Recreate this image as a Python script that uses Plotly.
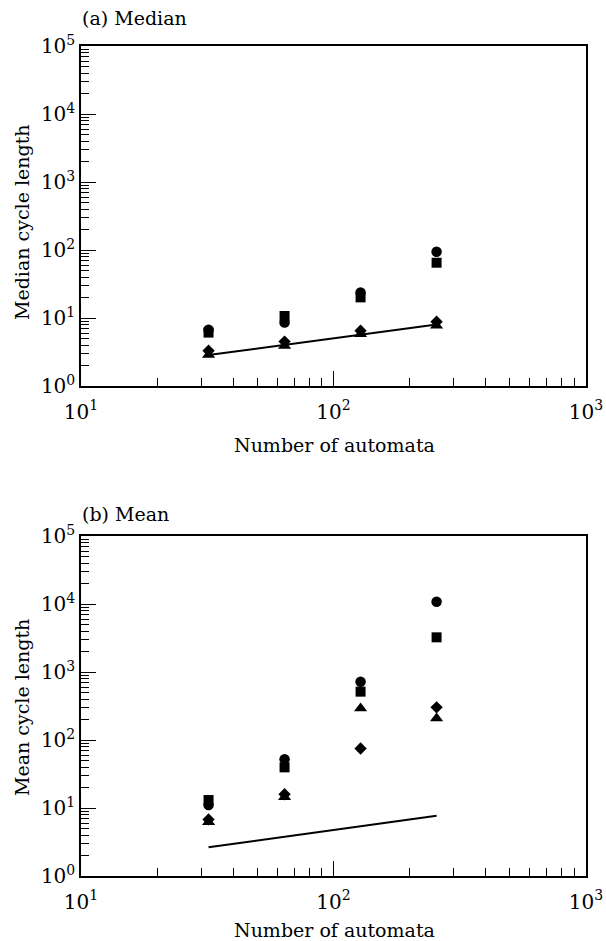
import plotly.graph_objects as go

# ---------------- data ----------------
automata = [32, 64, 128, 256]

median_circle = [6.7, 8.6, 23.8, 94]
median_square = [6.1, 10.7, 20.1, 65]
median_diamond = [3.3, 4.5, 6.5, 8.8]
median_triangle = [2.86, 3.9, 5.8, 7.7]

mean_circle = [11.1, 52, 720, 10800]
mean_square = [13.1, 39.6, 514, 3235]
mean_diamond = [6.8, 15.9, 75, 302]
mean_triangle = [6.2, 14.5, 292, 208]

ref_x = [32, 256]
median_ref_line = [2.86, 8.0]
mean_ref_line = [2.64, 7.7]

x_tick_vals = [10, 100, 1000]
x_tick_text = ["10<sup>1</sup>", "10<sup>2</sup>", "10<sup>3</sup>"]
y_tick_vals = [1, 10, 100, 1000, 10000, 100000]
y_tick_text = ["10<sup>0</sup>", "10<sup>1</sup>", "10<sup>2</sup>",
               "10<sup>3</sup>", "10<sup>4</sup>", "10<sup>5</sup>"]

FONT = "DejaVu Serif"
W, H = 606, 941

fig = go.Figure()

series = [
    ("circle", "circle", 10.5),
    ("square", "square", 10),
    ("diamond", "diamond", 9.5),
    ("triangle", "triangle-up", 11.5),
]
panels = [
    ("x", "y", [median_circle, median_square, median_diamond, median_triangle], median_ref_line),
    ("x2", "y2", [mean_circle, mean_square, mean_diamond, mean_triangle], mean_ref_line),
]
for xa, ya, vals, ref in panels:
    fig.add_trace(go.Scatter(x=ref_x, y=ref, mode="lines",
                             line=dict(color="black", width=2),
                             xaxis=xa, yaxis=ya, showlegend=False))
    for (name, sym, size), v in zip(series, vals):
        fig.add_trace(go.Scatter(x=automata, y=v, mode="markers", name=name,
                                 marker=dict(symbol=sym, size=size, color="black",
                                             line=dict(width=0)),
                                 xaxis=xa, yaxis=ya, showlegend=False))

def px_x(p):
    return p / W

def px_y(p):
    return 1 - p / H

common_x = dict(type="log", range=[1, 3], tickvals=x_tick_vals, ticktext=x_tick_text,
                ticks="inside", ticklen=15, tickwidth=1.2, tickcolor="black",
                minor=dict(ticks="inside", ticklen=8, dtick="D1", tickcolor="black", tickwidth=1.2),
                showline=True, linecolor="black", linewidth=1.5, mirror=True,
                showgrid=False, zeroline=False, automargin=False,
                ticklabelstandoff=7,
                tickfont=dict(family=FONT, size=20, color="black"),
                domain=[px_x(81), px_x(586)])
common_y = dict(type="log", range=[0, 5], tickvals=y_tick_vals, ticktext=y_tick_text,
                ticks="inside", ticklen=15, tickwidth=1.2, tickcolor="black",
                minor=dict(ticks="inside", ticklen=8, dtick="D1", tickcolor="black", tickwidth=1.2),
                showline=True, linecolor="black", linewidth=1.5, mirror=True,
                showgrid=False, zeroline=False, automargin=False,
                tickfont=dict(family=FONT, size=20, color="black"))

fig.update_layout(
    template="none",
    width=W, height=H,
    margin=dict(l=0, r=0, t=0, b=0, autoexpand=False),
    paper_bgcolor="white", plot_bgcolor="white",
    xaxis=dict(common_x, anchor="y"),
    yaxis=dict(common_y, anchor="x", domain=[px_y(386), px_y(46)]),
    xaxis2=dict(common_x, anchor="y2"),
    yaxis2=dict(common_y, anchor="x2", domain=[px_y(876), px_y(536)]),
)

ann_font = dict(family=FONT, size=19, color="black")
annotations = [
    dict(text="(a) Median", x=px_x(80), y=px_y(18), xanchor="left", yanchor="middle"),
    dict(text="(b) Mean", x=px_x(80), y=px_y(514), xanchor="left", yanchor="middle"),
    dict(text="Number of automata", x=px_x(334), y=px_y(445), xanchor="center", yanchor="middle"),
    dict(text="Number of automata", x=px_x(334), y=px_y(930), xanchor="center", yanchor="middle"),
    dict(text="Median cycle length", x=px_x(22), y=px_y(222), xanchor="center", yanchor="middle", textangle=-90),
    dict(text="Mean cycle length", x=px_x(22), y=px_y(708), xanchor="center", yanchor="middle", textangle=-90),
]
for a in annotations:
    a.update(xref="paper", yref="paper", showarrow=False, font=ann_font)
fig.update_layout(annotations=annotations)

fig.write_html("out.html")
